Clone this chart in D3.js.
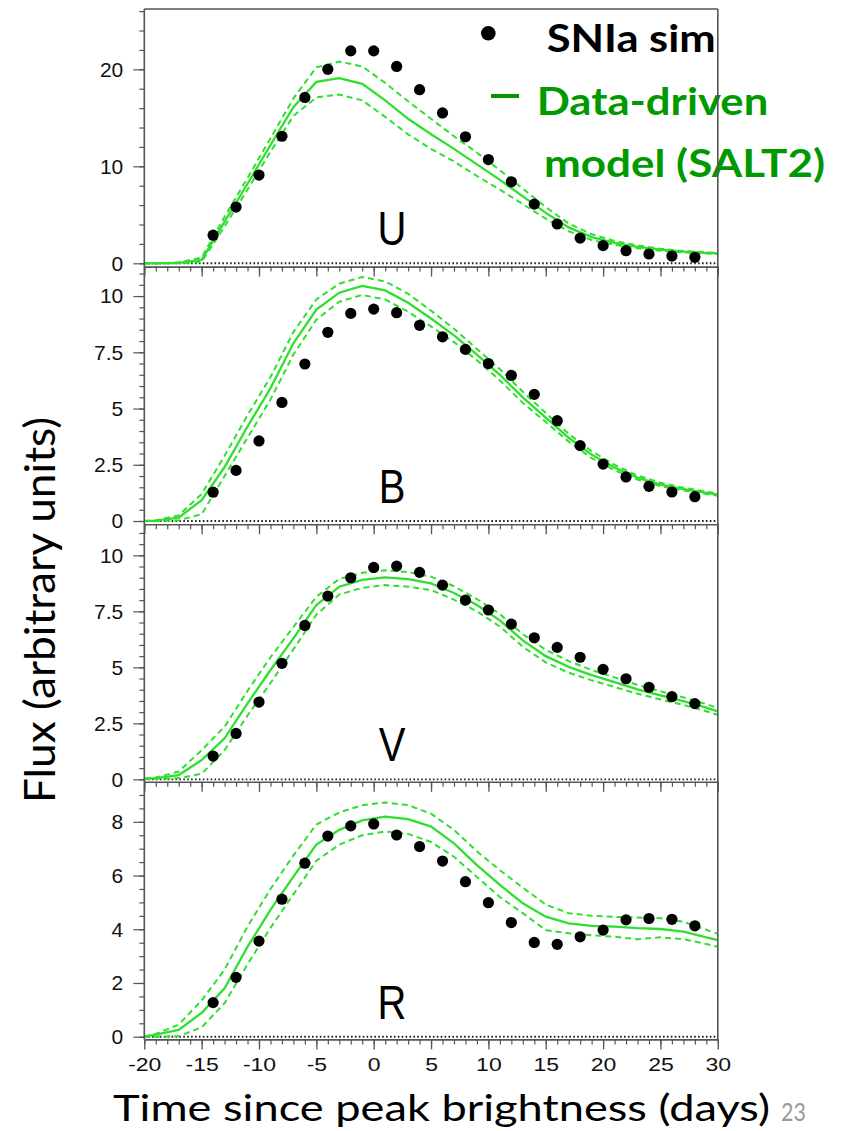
<!DOCTYPE html>
<html>
<head>
<meta charset="utf-8">
<script src="https://cdn.jsdelivr.net/npm/d3@7"></script>
<style>
  html, body { margin: 0; padding: 0; background: #fff; }
  svg { display: block; }
</style>
</head>
<body>
<script>
// ---------------- DATA ----------------
const bands = ["U", "B", "V", "R"];
const simDays = [-14,-12,-10,-8,-6,-4,-2,0,2,4,6,8,10,12,14,16,18,20,22,24,26,28];
const modelDays = [-20,-19,-17,-15,-13,-11,-9,-7,-5,-3,-1,1,3,5,7,9,11,13,15,17,19,21,23,25,27,29,30];

const simU = [2.9,5.8,9.1,13.1,17.1,20.0,21.9,21.9,20.3,17.9,15.5,13.05,10.7,8.4,6.1,4.05,2.6,1.82,1.3,0.96,0.75,0.62];
const simB = [1.28,2.25,3.56,5.27,6.98,8.39,9.23,9.42,9.26,8.7,8.19,7.63,7.0,6.47,5.63,4.46,3.35,2.53,1.96,1.54,1.29,1.08];
const simV = [1.04,2.05,3.45,5.18,6.87,8.18,9.0,9.46,9.52,9.24,8.67,8.0,7.56,6.93,6.32,5.89,5.45,4.91,4.49,4.11,3.69,3.38];
const simR = [1.27,2.21,3.56,5.12,6.46,7.47,7.85,7.92,7.51,7.08,6.54,5.77,4.99,4.25,3.51,3.44,3.72,3.97,4.35,4.4,4.37,4.13];

const modelU = [0,0,0.05,0.35,4.3,8.2,12.2,16.1,18.7,19.1,18.5,16.8,14.9,13.3,11.8,10.2,8.6,6.9,5.2,3.7,2.7,2.1,1.7,1.4,1.2,1.07,1.03];
const upperU = [0,0,0.1,0.6,4.8,8.8,12.9,17.0,20.2,20.8,20.3,18.6,16.7,14.9,13.1,11.4,9.6,7.7,5.8,4.1,3.0,2.3,1.85,1.5,1.28,1.13,1.08];
const lowerU = [0,0,0,0.15,3.8,7.6,11.5,15.2,17.1,17.4,16.8,15.1,13.3,11.8,10.5,9.0,7.6,6.1,4.6,3.3,2.4,1.9,1.55,1.3,1.12,1.0,0.97];

const modelB = [0,0.02,0.15,0.93,2.4,4.2,5.9,7.9,9.4,10.15,10.45,10.25,9.7,9.0,8.25,7.4,6.5,5.5,4.6,3.7,2.95,2.38,1.93,1.62,1.42,1.25,1.17];
const upperB = [0,0.03,0.25,1.2,2.9,4.7,6.4,8.4,9.85,10.55,10.85,10.65,10.1,9.35,8.55,7.65,6.75,5.75,4.8,3.87,3.1,2.5,2.02,1.7,1.48,1.3,1.22];
const lowerB = [0,0,0.03,0.3,2.0,3.7,5.4,7.4,8.95,9.75,10.05,9.85,9.3,8.65,7.95,7.15,6.25,5.25,4.4,3.53,2.8,2.26,1.84,1.55,1.36,1.2,1.12];

const modelV = [0.02,0.05,0.19,0.86,1.83,3.39,4.88,6.29,7.78,8.6,8.9,9.02,8.94,8.75,8.32,7.78,7.1,6.2,5.5,5.02,4.65,4.34,4.02,3.75,3.49,3.2,3.03];
const upperV = [0.04,0.08,0.35,1.3,2.35,3.95,5.45,6.8,8.15,8.95,9.22,9.33,9.25,9.05,8.62,8.05,7.38,6.48,5.78,5.28,4.88,4.55,4.22,3.93,3.66,3.36,3.18];
const lowerV = [0.03,0.03,0.05,0.25,1.3,2.85,4.3,5.8,7.35,8.25,8.55,8.67,8.6,8.45,8.02,7.5,6.82,5.92,5.22,4.76,4.42,4.12,3.82,3.56,3.32,3.04,2.88];

const modelR = [0,0.08,0.25,0.89,1.8,3.35,4.72,5.96,7.15,7.7,8.05,8.19,8.1,7.82,7.2,6.39,5.65,4.97,4.47,4.22,4.13,4.1,4.04,4.01,3.91,3.7,3.6];
const upperR = [0,0.1,0.45,1.35,2.5,4.1,5.5,6.75,7.9,8.35,8.62,8.72,8.62,8.3,7.7,6.9,6.2,5.55,4.92,4.6,4.5,4.46,4.44,4.41,4.28,3.98,3.83];
const lowerR = [0,0,0.02,0.35,1.25,2.7,4.05,5.3,6.55,7.15,7.5,7.64,7.55,7.25,6.7,5.95,5.2,4.6,3.97,3.85,3.78,3.72,3.63,3.7,3.63,3.45,3.35];

const yLabelsU = [0, 10, 20];
const yLabelsB = [0, 2.5, 5, 7.5, 10];
const yLabelsV = [0, 2.5, 5, 7.5, 10];
const yLabelsR = [0, 2, 4, 6, 8];
const xLabels = [-20,-15,-10,-5,0,5,10,15,20,25,30];

const legendSim = "SNIa sim";
const legendModel1 = "Data-driven";
const legendModel2 = "model (SALT2)";
const xTitle = "Time since peak brightness (days)";
const yTitle = "Flux (arbitrary units)";
const pageNum = "23";

// ---------------- LAYOUT ----------------
const W = 842, H = 1131;
const X0 = 144.3, X1 = 717.8;
const panelTop = 9, panelH = 257.6;
const yDomains = {U: [-0.34, 26.22], B: [-0.142, 11.31], V: [-0.11, 11.39], R: [-0.10, 9.49]};
const minorStep = {U: 2, B: 0.5, V: 0.5, R: 0.5};
const yLabelSets = {U: yLabelsU, B: yLabelsB, V: yLabelsV, R: yLabelsR};
const sims = {U: simU, B: simB, V: simV, R: simR};
const models = {U: modelU, B: modelB, V: modelV, R: modelR};
const uppers = {U: upperU, B: upperB, V: upperV, R: upperR};
const lowers = {U: lowerU, B: lowerB, V: lowerV, R: lowerR};

const lineGreen = "#2fdf2f";
const textGreen = "#009a00";
const axisCol = "#555";

const svg = d3.select("body").append("svg").attr("width", W).attr("height", H);
svg.append("rect").attr("width", W).attr("height", H).attr("fill", "#fff");

const x = d3.scaleLinear().domain([-20, 30]).range([X0, X1]);

const legendG = svg.append("g");
const dataG = svg.append("g");
const axesG = svg.append("g");

bands.forEach((b, i) => {
  const top = panelTop + i * panelH;
  const bottom = top + panelH;
  const y = d3.scaleLinear().domain(yDomains[b]).range([bottom, top]);
  const g = dataG.append("g");

  // zero dotted line
  g.append("line")
    .attr("x1", X0).attr("x2", X1)
    .attr("y1", y(0)).attr("y2", y(0))
    .attr("stroke", "#222").attr("stroke-width", 1.9)
    .attr("stroke-dasharray", "1.6,2.3");

  const line = d3.line().x((d, k) => x(modelDays[k])).y(d => y(d));
  [uppers[b], lowers[b]].forEach(arr => {
    g.append("path").datum(arr).attr("d", line)
      .attr("fill", "none").attr("stroke", lineGreen)
      .attr("stroke-width", 2).attr("stroke-dasharray", "6,4");
  });
  g.append("path").datum(models[b]).attr("d", line)
    .attr("fill", "none").attr("stroke", lineGreen).attr("stroke-width", 2.3);

  g.selectAll("circle.sim").data(sims[b]).join("circle")
    .attr("class", "sim")
    .attr("cx", (d, k) => x(simDays[k])).attr("cy", d => y(d))
    .attr("r", 5.6).attr("fill", "#000");

  // band letter
  g.append("text")
    .attr("transform", `translate(392,${y(0) - 18}) scale(1,1.22)`)
    .attr("text-anchor", "middle")
    .attr("font-family", "Liberation Sans, Arial, sans-serif")
    .attr("font-size", 40).attr("fill", "#000")
    .text(b);

  // y axis: minor ticks
  const minor = d3.range(0, yDomains[b][1] + 1e-9, minorStep[b]);
  const ag = axesG.append("g");
  ag.append("g").attr("transform", `translate(${X0},0)`)
    .call(d3.axisLeft(y).tickValues(minor).tickSize(5).tickSizeOuter(0).tickFormat(""))
    .call(s => s.select(".domain").remove())
    .call(s => s.selectAll("line").attr("stroke", axisCol).attr("stroke-width", 1.2));
  ag.append("g").attr("transform", `translate(${X0},0)`)
    .call(d3.axisLeft(y).tickValues(yLabelSets[b]).tickSize(11).tickSizeOuter(0).tickPadding(10).tickFormat(d => String(d)))
    .call(s => s.select(".domain").remove())
    .call(s => s.selectAll("line").attr("stroke", axisCol).attr("stroke-width", 1.2))
    .call(s => s.selectAll("text").attr("font-family", "Liberation Sans, Arial, sans-serif").attr("font-size", 21).attr("fill", "#111"));

  // x axis at bottom of each panel: ticks pointing down
  const xMinor = d3.range(-20, 31, 1);
  ag.append("g").attr("transform", `translate(0,${bottom})`)
    .call(d3.axisBottom(x).tickValues(xMinor).tickSize(5).tickSizeOuter(0).tickFormat(""))
    .call(s => s.select(".domain").attr("stroke", axisCol).attr("stroke-width", 1.6))
    .call(s => s.selectAll("line").attr("stroke", axisCol).attr("stroke-width", 1.2));
  const xMaj = ag.append("g").attr("transform", `translate(0,${bottom})`)
    .call(d3.axisBottom(x).tickValues(xLabels).tickSize(10).tickSizeOuter(0)
      .tickFormat(i === bands.length - 1 ? (d => String(d)) : ""))
    .call(s => s.select(".domain").remove())
    .call(s => s.selectAll("line").attr("stroke", axisCol).attr("stroke-width", 1.3));
  xMaj.selectAll("text")
    .attr("y", 0).attr("dy", 0)
    .attr("transform", "translate(0,32) scale(1,0.8)")
    .attr("font-family", "Liberation Sans, Arial, sans-serif")
    .attr("font-size", 23).attr("fill", "#111");
});

// frame: left, top
const frameBottom = panelTop + bands.length * panelH;
axesG.append("line").attr("x1", X0).attr("x2", X0).attr("y1", panelTop).attr("y2", frameBottom)
  .attr("stroke", axisCol).attr("stroke-width", 1.6);
axesG.append("line").attr("x1", X0).attr("x2", X1).attr("y1", panelTop).attr("y2", panelTop)
  .attr("stroke", axisCol).attr("stroke-width", 1.6);

// legend
legendG.append("circle").attr("cx", 488.3).attr("cy", 33.3).attr("r", 7.3).attr("fill", "#000");
legendG.append("text").attr("x", 546.7).attr("y", 51.7)
  .attr("font-family", "Lato, sans-serif").attr("font-weight", "bold").attr("font-size", 38)
  .attr("textLength", 169).attr("lengthAdjust", "spacingAndGlyphs").attr("fill", "#000").text(legendSim);
legendG.append("rect").attr("x", 491).attr("y", 94).attr("width", 28).attr("height", 4).attr("fill", textGreen);
legendG.append("text").attr("x", 536.7).attr("y", 115)
  .attr("font-family", "Lato, sans-serif").attr("font-weight", "bold").attr("font-size", 38)
  .attr("textLength", 231.6).attr("lengthAdjust", "spacingAndGlyphs").attr("fill", textGreen).text(legendModel1);
legendG.append("text").attr("x", 544).attr("y", 176.7)
  .attr("font-family", "Lato, sans-serif").attr("font-weight", "bold").attr("font-size", 38)
  .attr("textLength", 281).attr("lengthAdjust", "spacingAndGlyphs").attr("fill", textGreen).text(legendModel2);

// right border over the legend
axesG.append("line").attr("x1", X1).attr("x2", X1).attr("y1", panelTop).attr("y2", frameBottom)
  .attr("stroke", axisCol).attr("stroke-width", 1.6);

// titles
svg.append("text").attr("x", 113).attr("y", 1121)
  .attr("font-family", "Lato, sans-serif").attr("font-size", 37)
  .attr("textLength", 657).attr("lengthAdjust", "spacingAndGlyphs").attr("fill", "#000").text(xTitle);
svg.append("text").attr("x", 781).attr("y", 1121)
  .attr("font-family", "Lato, sans-serif").attr("font-size", 25)
  .attr("textLength", 25).attr("lengthAdjust", "spacingAndGlyphs").attr("fill", "#9a9a9a").text(pageNum);
svg.append("text").attr("transform", "translate(55,803) rotate(-90)")
  .attr("font-family", "Lato, sans-serif").attr("font-size", 42)
  .attr("textLength", 386).attr("lengthAdjust", "spacingAndGlyphs").attr("fill", "#000").text(yTitle);
</script>
</body>
</html>
